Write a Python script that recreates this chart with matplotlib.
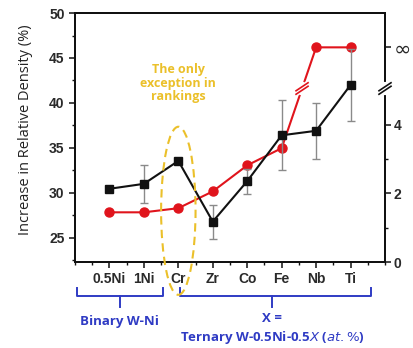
import matplotlib
matplotlib.use("Agg")
import matplotlib.pyplot as plt
from matplotlib.patches import Ellipse
from matplotlib.lines import Line2D
from matplotlib.transforms import IdentityTransform, blended_transform_factory
from matplotlib.ticker import MultipleLocator, FixedLocator
import numpy as np

# data
categories = ["0.5Ni", "1Ni", "Cr", "Zr", "Co", "Fe", "Nb", "Ti"]
density_increase = [30.45, 31.0, 33.55, 26.8, 31.3, 36.4, 36.9, 42.0]
density_err = [0.0, 2.1, 0.0, 1.9, 1.4, 3.9, 3.1, 4.0]
INF_POS = 6.26  # right-axis position used for the "infinity" level
ranking = [1.45, 1.45, 1.57, 2.06, 2.82, 3.32, INF_POS, INF_POS]
right_ticks = [0, 2, 4, INF_POS]
right_ticklabels = ["0", "2", "4", "∞"]

BLACK = "#111111"
RED = "#e0141c"
GOLD = "#ebc02a"
BLUE = "#2f3bc4"
TICK_FONT = "Liberation Sans"
NOTE_FONT = "Open Sans"

fig = plt.figure(figsize=(4.13, 3.48), dpi=100)
ax = fig.add_axes([0.1816, 0.247, 0.7506, 0.7155])
ax2 = ax.twinx()
ax.set_zorder(ax2.get_zorder() + 1)
ax.patch.set_visible(False)

x = np.arange(1, len(categories) + 1)

# left axis: black squares with error bars
ax.errorbar(x, density_increase, yerr=density_err, fmt="none", ecolor="#8a8a8a",
            elinewidth=1.0, capsize=3, capthick=1.0, zorder=2)
ax.plot(x, density_increase, color=BLACK, lw=1.5, marker="s", ms=6, zorder=4)

ax.set_xlim(0, 9)
ax.set_ylim(22.3, 50)
ax.set_xticks(x)
ax.set_xticklabels(categories)
ax.xaxis.set_minor_locator(MultipleLocator(0.5))
ax.yaxis.set_minor_locator(MultipleLocator(2.5))
ax.set_yticks([25, 30, 35, 40, 45, 50])

# right axis: red circles
ax2.plot(x, ranking, color=RED, lw=1.5, marker="o", ms=6.5, zorder=3)
ax2.set_ylim(0, 7.26)
ax2.yaxis.set_major_locator(FixedLocator(right_ticks))
ax2.set_yticklabels(right_ticklabels)
ax2.yaxis.set_minor_locator(FixedLocator([1, 3]))

for a in (ax, ax2):
    for s in a.spines.values():
        s.set_linewidth(1.4)
        s.set_color(BLACK)
    a.tick_params(which="major", length=4, width=1.1, color=BLACK)
    a.tick_params(which="minor", length=2.5, width=1.0, color=BLACK)
for lab in ax.get_xticklabels() + ax.get_yticklabels() + ax2.get_yticklabels():
    lab.set_fontfamily(TICK_FONT)
    lab.set_fontweight("bold")
    lab.set_fontsize(10)
    lab.set_color("#2a2a2a")
ax.tick_params(axis="x", pad=3)
ax2.tick_params(axis="y", pad=2)
ax2.get_yticklabels()[-1].set_fontsize(15)
ax2.get_yticklabels()[-1].set_fontweight("normal")
ax2.get_yticklabels()[-1].set_fontfamily("DejaVu Sans")

ax.set_ylabel("Increase in Relative Density (%)", fontfamily=NOTE_FONT,
              fontsize=10.5, color="#222222")
ax.yaxis.set_label_coords(-0.135, 0.53)


# break marks, drawn in pixel space
def draw_break(axis, xd, yd, color, gap_color="white", dx=6, dy=4, sep=3.5):
    px, py = axis.transData.transform((xd, yd))
    fig.add_artist(Line2D([px, px], [py - sep - 1, py + sep + 1], color=gap_color, lw=3,
                          transform=IdentityTransform(), zorder=9))
    fig.add_artist(Line2D([px - 3, px + 3], [py - 1.5 * sep / 2, py + 1.5 * sep / 2],
                          color=gap_color, lw=4.5, transform=IdentityTransform(), zorder=9))
    for off in (-sep / 2, sep / 2):
        fig.add_artist(Line2D([px - dx, px + dx], [py + off - dy, py + off + dy], color=color,
                              lw=1.2, transform=IdentityTransform(), zorder=10))


break_y = 5.06
fe, nb = x[5], x[6]
t = (break_y - ranking[5]) / (ranking[6] - ranking[5])
draw_break(ax2, fe + t * (nb - fe), break_y, RED)
draw_break(ax2, 9, break_y, BLACK)

# ellipse around Cr
ax.add_patch(Ellipse((3.0, 28.0), 1.0, 18.7, fill=False, ec=GOLD, lw=1.5, ls=(0, (4, 2.5)),
                     clip_on=False, zorder=6))
ax.text(3.0, 42.2, "The only\nexception in\nrankings", ha="center", va="center",
        fontfamily=NOTE_FONT, fontweight="bold", fontsize=9, color=GOLD, linespacing=1.05)

# braces below the axis
tb = blended_transform_factory(ax.transData, ax.transAxes)


def brace(x0, x1, xm):
    y_line, y_end, y_tip = -0.137, -0.105, -0.18
    ax.plot([x0, x0, x1, x1], [y_end, y_line, y_line, y_end], color=BLUE, lw=1.4,
            transform=tb, clip_on=False, solid_joinstyle="round")
    ax.plot([xm, xm], [y_line, y_tip], color=BLUE, lw=1.4, transform=tb, clip_on=False)


brace(0.05, 2.55, 1.3)
brace(3.05, 8.6, 5.72)
ax.text(1.3, -0.24, "Binary W-Ni", transform=tb, ha="center", va="center",
        fontfamily=NOTE_FONT, fontweight="bold", fontsize=9.5, color=BLUE)
ax.text(5.72, -0.228, "X =", transform=tb, ha="center", va="center",
        fontfamily=NOTE_FONT, fontweight="bold", fontsize=9.5, color=BLUE)
ax.text(5.72, -0.305, r"Ternary W-0.5Ni-0.5$\mathbf{\it{X}}$ ($\it{at.\%}$)", transform=tb,
        ha="center", va="center", fontfamily=NOTE_FONT, fontweight="bold", fontsize=9.5,
        color=BLUE)

fig.savefig("out.png", dpi=100)
